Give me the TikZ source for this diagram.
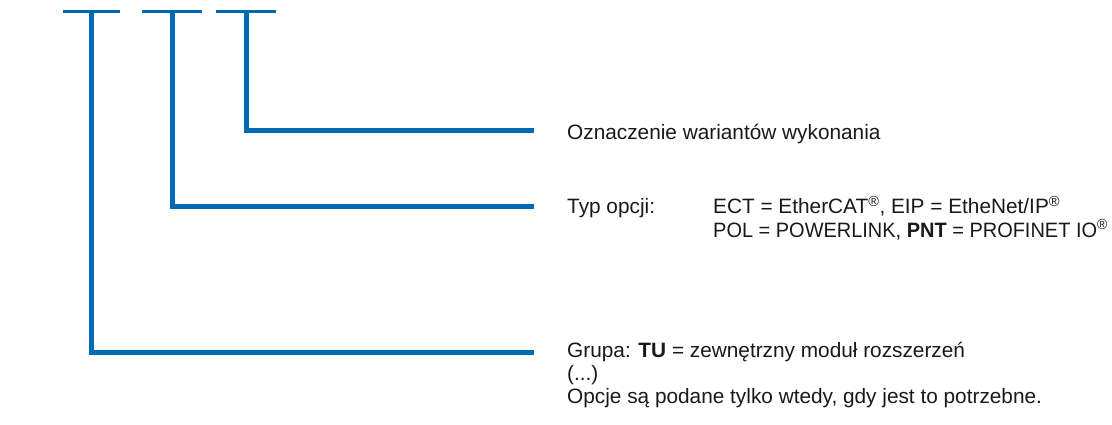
\documentclass[tikz,border=0pt]{standalone}
\usepackage{fontspec}
\setmainfont{Liberation Sans}
\definecolor{fblue}{RGB}{0,105,180}
\definecolor{txt}{RGB}{25,25,25}
\begin{document}
\begin{tikzpicture}[x=1pt,y=-1pt,
  lbl/.style={anchor=base west,inner sep=0pt,font=\fontsize{20.8}{23}\selectfont,text=txt},
  lead/.style={draw=fblue,line width=5pt,line join=miter},
  dashmark/.style={draw=fblue,line width=2.7pt}]
\useasboundingbox (0,0) rectangle (1112,425);
% top marks
\coordinate (d1a) at (63,11.3);  \coordinate (d1b) at (120,11.3);
\coordinate (d2a) at (142,11.3); \coordinate (d2b) at (202,11.3);
\coordinate (d3a) at (216,11.3); \coordinate (d3b) at (276,11.3);
\draw[dashmark] (d1a) -- (d1b);
\draw[dashmark] (d2a) -- (d2b);
\draw[dashmark] (d3a) -- (d3b);
% leader tops
\coordinate (v1) at (91.7,11.3);
\coordinate (v2) at (172.3,11.3);
\coordinate (v3) at (246,11.3);
% leader ends
\coordinate (h1) at (534,352.8);
\coordinate (h2) at (534,206.5);
\coordinate (h3) at (534,130.5);
\draw[lead] (v1) |- (h1);
\draw[lead] (v2) |- (h2);
\draw[lead] (v3) |- (h3);
% texts
\node[lbl] (oz) at (567,140) {Oznaczenie wariantów wykonania};
\node[lbl] (typ) at (567,214) {Typ opcji:};
\node[lbl] (ect) at (713,214) {ECT = EtherCAT\textsuperscript{®}, EIP = EtheNet/IP\textsuperscript{®}};
\node[lbl] (pol) at (713,237) {\addfontfeature{FakeStretch=0.96}POL = POWERLINK, \textbf{PNT} = PROFINET IO\textsuperscript{®}};
\node[lbl] (grp) at (567,357) {Grupa: \textbf{TU} = zewnętrzny moduł rozszerzeń};
\node[lbl] (dots) at (567,380) {(...)};
\node[lbl] (opc) at (567,403) {Opcje są podane tylko wtedy, gdy jest to potrzebne.};
\end{tikzpicture}
\end{document}
